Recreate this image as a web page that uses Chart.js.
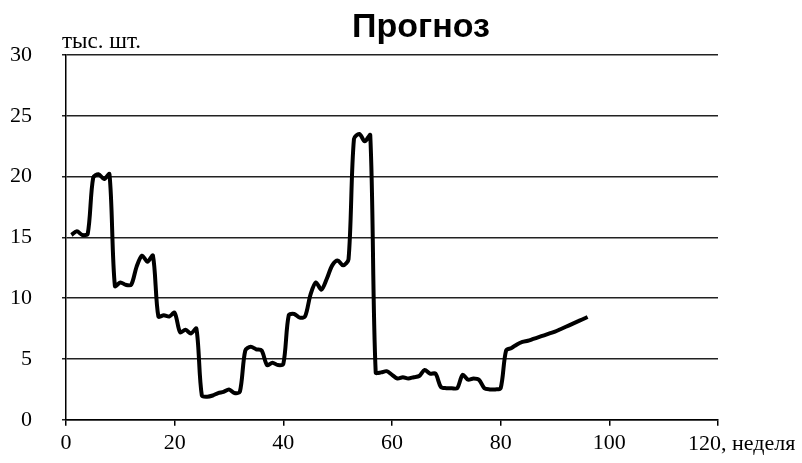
<!DOCTYPE html>
<html>
<head>
<meta charset="utf-8">
<script src="https://cdn.jsdelivr.net/npm/chart.js@4"></script>
<style>
  body { margin: 0; background: #fff; }
  #wrap { width: 802px; height: 463px; }
</style>
</head>
<body>
<div id="wrap"><canvas id="grafico"></canvas></div>
<script>
// недели 1..96
const nedeli = [];
for (let i = 1; i <= 96; i++) nedeli.push(i);

// прогноз, тыс. шт.
const prognoz = [
  15.2, 15.5, 15.2, 15.3, 19.9, 20.2, 19.8, 20.2, 11.0, 11.3,
  11.1, 11.1, 12.6, 13.5, 13.0, 13.5, 8.5, 8.6, 8.5, 8.8,
  7.2, 7.4, 7.1, 7.5, 2.0, 1.9, 2.0, 2.2, 2.3, 2.5,
  2.2, 2.3, 5.7, 6.0, 5.8, 5.7, 4.5, 4.7, 4.5, 4.6,
  8.6, 8.7, 8.4, 8.5, 10.3, 11.3, 10.7, 11.6, 12.7, 13.1,
  12.7, 13.2, 23.1, 23.5, 22.9, 23.4, 3.9, 3.9, 4.0, 3.7,
  3.4, 3.5, 3.4, 3.5, 3.6, 4.1, 3.8, 3.8, 2.7, 2.6,
  2.6, 2.6, 3.7, 3.3, 3.4, 3.3, 2.6, 2.5, 2.5, 2.6,
  5.7, 5.9, 6.2, 6.4, 6.5, 6.65, 6.8, 6.95, 7.1, 7.25,
  7.45, 7.65, 7.85, 8.05, 8.25, 8.45
];

const xTicks = [0, 20, 40, 60, 80, 100, 120];
const yTicks = [0, 5, 10, 15, 20, 25, 30];

const tochki = nedeli.map((n, i) => ({ x: n, y: prognoz[i] }));

const serif = '"Liberation Serif", "Times New Roman", serif';

// подписи: заголовок, единицы, "120, неделя"
const podpisi = {
  id: 'podpisi',
  afterDraw(chart) {
    const c = chart.ctx;
    const sx = chart.scales.x;
    c.save();
    c.fillStyle = '#000';
    c.font = 'bold 34px "Liberation Sans", Arial, sans-serif';
    c.textAlign = 'center';
    c.textBaseline = 'middle';
    c.fillText('Прогноз', 421, 28);
    c.font = '23px ' + serif;
    c.textAlign = 'left';
    c.fillText('тыс. шт.', 62, 42);
    c.font = '22px ' + serif;
    c.fillText('120, неделя', sx.getPixelForValue(120) - 30, 444);
    c.restore();
  }
};

const ctx = document.getElementById('grafico').getContext('2d');
const myChart = new Chart(ctx, {
  type: 'line',
  data: {
    datasets: [{
      data: tochki,
      borderColor: '#000',
      borderWidth: 4,
      pointRadius: 0,
      tension: 0.3,
      fill: false
    }]
  },
  options: {
    responsive: true,
    maintainAspectRatio: false,
    animation: false,
    layout: { padding: { top: 55, right: 84, left: 0, bottom: 0 } },
    plugins: { legend: { display: false }, tooltip: { enabled: false } },
    scales: {
      x: {
        type: 'linear',
        min: 0, max: 120,
        afterBuildTicks: s => { s.ticks = xTicks.map(v => ({ value: v })); },
        afterFit: s => { s.height = 41; },
        grid: { drawOnChartArea: false, drawTicks: true, tickLength: 6, color: '#000', lineWidth: 1.5 },
        border: { display: true, color: '#000', width: 1.5 },
        ticks: {
          color: '#000',
          padding: 4,
          maxRotation: 0,
          font: { family: serif, size: 22 },
          callback: v => (v === 120 ? '' : v)
        }
      },
      y: {
        min: 0, max: 30,
        afterBuildTicks: s => { s.ticks = yTicks.map(v => ({ value: v })); },
        afterFit: s => { s.width = 66; },
        grid: { color: '#222', lineWidth: 1.5, tickLength: 4 },
        border: { display: true, color: '#000', width: 1.5 },
        ticks: {
          color: '#000',
          padding: 30,
          font: { family: serif, size: 22 }
        }
      }
    }
  },
  plugins: [podpisi]
});
</script>
</body>
</html>
